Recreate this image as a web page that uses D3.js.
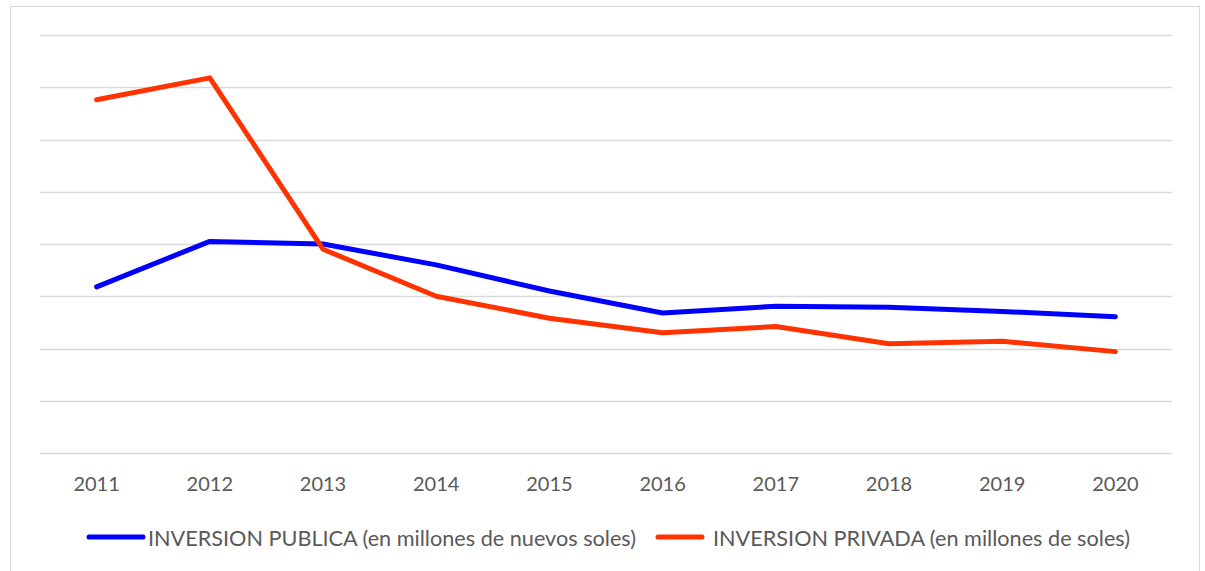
<!DOCTYPE html>
<html>
<head>
<meta charset="utf-8">
<script src="https://cdn.jsdelivr.net/npm/d3@7"></script>
<style>
  body { margin: 0; background: #fff; }
  svg { display: block; }
</style>
</head>
<body>
<div id="chart"></div>
<script>
const years = ["2011", "2012", "2013", "2014", "2015", "2016", "2017", "2018", "2019", "2020"]

// values (no y labels in the original, units arbitrary)
const publica = [3180, 4050, 4000, 3600, 3100, 2680, 2810, 2790, 2710, 2610]
const privada = [6760, 7180, 3900, 3000, 2580, 2300, 2420, 2090, 2140, 1940]

const series = [
  { name: "INVERSION PUBLICA (en millones de nuevos soles)", values: publica, color: "#0000ff" },
  { name: "INVERSION PRIVADA (en millones de soles)", values: privada, color: "#ff3300" }
]

const width = 1205
const height = 571
const font = "Lato, 'Open Sans', sans-serif"

const svg = d3.select("#chart")
  .append("svg")
    .attr("width", width)
    .attr("height", height)

// chart frame
svg.append("rect")
    .attr("x", 10.5)
    .attr("y", 6.5)
    .attr("width", 1189)
    .attr("height", 580)
    .attr("fill", "none")
    .attr("stroke", "#d9d9d9")

const x = d3.scalePoint()
    .domain(years)
    .range([40, 1172])
    .padding(0.5)

const y = d3.scaleLinear()
    .domain([0, 8000])
    .range([453, 35])

// gridlines
svg.append("g")
  .selectAll("line")
  .data(y.ticks(8))
  .join("line")
    .attr("x1", 40)
    .attr("x2", 1172)
    .attr("y1", d => Math.round(y(d)) + 0.5)
    .attr("y2", d => Math.round(y(d)) + 0.5)
    .attr("stroke", "#d9d9d9")
    .attr("stroke-width", 1.5)

// year labels
svg.append("g")
    .style("font-family", font)
    .style("font-size", "20px")
    .attr("fill", "#595959")
    .attr("text-anchor", "middle")
  .selectAll("text")
  .data(years)
  .join("text")
    .attr("x", d => x(d))
    .attr("y", 491)
    .text(d => d)

const line = d3.line()
    .x((d, i) => x(years[i]))
    .y(d => y(d))

svg.append("g")
  .selectAll("path")
  .data(series)
  .join("path")
    .attr("d", d => line(d.values))
    .attr("fill", "none")
    .attr("stroke", d => d.color)
    .attr("stroke-width", 5)
    .attr("stroke-linecap", "round")
    .attr("stroke-linejoin", "round")

// legend
const legendPos = [
  { x1: 89, x2: 143, tx: 148, tw: 488 },
  { x1: 658, x2: 702, tx: 713, tw: 417 }
]

const legend = svg.append("g")
  .selectAll("g")
  .data(series)
  .join("g")

legend.append("line")
    .attr("x1", (d, i) => legendPos[i].x1)
    .attr("x2", (d, i) => legendPos[i].x2)
    .attr("y1", 537)
    .attr("y2", 537)
    .attr("stroke", d => d.color)
    .attr("stroke-width", 5)
    .attr("stroke-linecap", "round")

legend.append("text")
    .attr("x", (d, i) => legendPos[i].tx)
    .attr("y", 546)
    .attr("textLength", (d, i) => legendPos[i].tw)
    .attr("lengthAdjust", "spacingAndGlyphs")
    .style("font-family", font)
    .style("font-size", "21px")
    .attr("fill", "#595959")
    .text(d => d.name)
</script>
</body>
</html>
